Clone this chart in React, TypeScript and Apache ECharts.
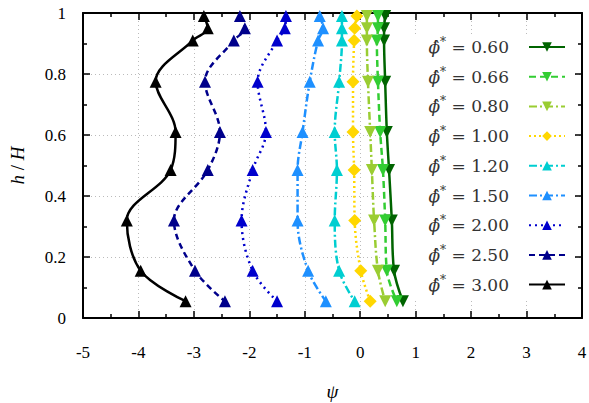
import React, { useEffect, useRef } from 'react';
import * as echarts from 'echarts';

// h/H levels where the profiles were sampled (top to bottom)
const heights = [0.99, 0.95, 0.91, 0.775, 0.61, 0.485, 0.32, 0.155, 0.055];

// psi values for each phi* series
const phiLabels = ['0.60', '0.66', '0.80', '1.00', '1.20', '1.50', '2.00', '2.50', '3.00'];
const psi060 = [0.45, 0.43, 0.43, 0.45, 0.48, 0.52, 0.57, 0.61, 0.77];
const psi066 = [0.32, 0.32, 0.30, 0.32, 0.36, 0.41, 0.45, 0.48, 0.66];
const psi080 = [0.12, 0.12, 0.12, 0.14, 0.18, 0.21, 0.25, 0.32, 0.45];
const psi100 = [-0.06, -0.1, -0.11, -0.13, -0.13, -0.11, -0.1, 0.01, 0.18];
const psi120 = [-0.33, -0.33, -0.33, -0.38, -0.46, -0.42, -0.46, -0.38, -0.1];
const psi150 = [-0.73, -0.67, -0.76, -0.91, -1.04, -1.13, -1.13, -0.94, -0.62];
const psi200 = [-1.34, -1.36, -1.5, -1.85, -1.7, -1.94, -2.14, -1.94, -1.5];
const psi250 = [-2.17, -2.08, -2.28, -2.8, -2.53, -2.75, -3.36, -2.98, -2.44];
const psi300 = [-2.82, -2.75, -3.02, -3.69, -3.33, -3.42, -4.21, -3.96, -3.15];

const allPsi = [psi060, psi066, psi080, psi100, psi120, psi150, psi200, psi250, psi300];
const colors = ['#006400', '#32CD32', '#9ACD32', '#FFD700', '#00CED1', '#1E90FF', '#0000CD', '#00008B', '#000000'];
const dashes: any[] = ['solid', [7, 4], [8, 3, 2, 3], [2, 3], [8, 3, 2, 3], [8, 3, 2, 3], [2, 4], [6, 4], 'solid'];
const symbols = ['triangle', 'triangle', 'triangle', 'diamond', 'triangle', 'triangle', 'triangle', 'triangle', 'triangle'];
const rotations = [180, 180, 180, 0, 0, 0, 0, 0, 0];

const FONT = 'Liberation Serif';
const FONT_L = 'DejaVu Serif';

const tickRich = { a: { fontFamily: FONT, fontSize: 17, color: '#000' } };

export default function App() {
  const ref = useRef<HTMLDivElement>(null);
  useEffect(() => {
    const chart = echarts.init(ref.current!, null, { renderer: 'svg' });
    const series = phiLabels.map((name, k) => ({
      name,
      type: 'line',
      data: heights.map((h, i) => [allPsi[k][i], h]),
      smooth: 0.35,
      symbol: symbols[k],
      symbolRotate: rotations[k],
      symbolSize: symbols[k] === 'diamond' ? 13 : 12,
      lineStyle: { color: colors[k], width: 2.5, type: dashes[k] },
      itemStyle: { color: colors[k] },
      z: 2,
    }));
    const axisCommon = {
      axisLine: { show: true, onZero: false, lineStyle: { color: '#000', width: 2 } },
      axisTick: { show: true, inside: true, length: 7, lineStyle: { color: '#000', width: 1.5 } },
      minorTick: { show: true, splitNumber: 2, length: 4, lineStyle: { color: '#000', width: 1.5 } },
    };
    chart.setOption({
      animation: false,
      backgroundColor: '#fff',
      grid: { left: 83, right: 7, top: 13, bottom: 85, outerBoundsMode: 'none', containLabel: false },
      xAxis: [
        {
          type: 'value', min: -5, max: 4, interval: 1, position: 'bottom',
          ...axisCommon,
          axisLabel: {
            margin: 26,
            formatter: (v: number) => `{a|${v}}`,
            rich: tickRich,
          },
          splitLine: { show: true, lineStyle: { color: '#bbb', type: [1, 3], width: 1 } },
          name: '{i|ψ}', nameLocation: 'middle', nameGap: 64,
          nameTextStyle: { rich: { i: { fontFamily: FONT, fontSize: 19, fontStyle: 'italic', color: '#000' } } },
        },
        {
          type: 'value', min: -5, max: 4, interval: 1, position: 'top',
          ...axisCommon,
          axisLabel: { show: false },
          splitLine: { show: false },
        },
      ],
      yAxis: [
        {
          type: 'value', min: 0, max: 1, interval: 0.2, position: 'left',
          ...axisCommon,
          axisLabel: {
            margin: 17,
            formatter: (v: number) => `{a|${Math.round(v * 10) / 10}}`,
            rich: tickRich,
          },
          splitLine: { show: true, lineStyle: { color: '#bbb', type: [1, 3], width: 1 } },
          name: '{i|h}{n| / }{i|H}', nameLocation: 'middle', nameGap: 56, nameRotate: 90,
          nameTextStyle: {
            color: '#000',
            rich: {
              i: { fontFamily: FONT, fontSize: 19, fontStyle: 'italic', color: '#000' },
              n: { fontFamily: FONT, fontSize: 19, color: '#000' },
            },
          },
        },
        {
          type: 'value', min: 0, max: 1, interval: 0.2, position: 'right',
          ...axisCommon,
          axisLabel: { show: false },
          splitLine: { show: false },
        },
      ],
      legend: {
        orient: 'vertical',
        right: 16,
        top: 34,
        align: 'right',
        itemWidth: 36,
        itemHeight: 12,
        itemGap: 10.2,
        padding: [2, 7, 6, 46],
        backgroundColor: '#fff',
        z: 1,
        data: phiLabels,
        formatter: (name: string) => `{p|ϕ̂}{s|*}{n| = ${name}}`,
        textStyle: {
          fontFamily: FONT_L,
          fontSize: 17,
          padding: [0, 15, 0, 0],
          rich: {
            p: { fontFamily: FONT_L, fontSize: 17, fontStyle: 'italic', color: '#333', lineHeight: 22 },
            s: { fontFamily: FONT_L, fontSize: 12, color: '#333', lineHeight: 22, verticalAlign: 'top' },
            n: { fontFamily: FONT_L, fontSize: 17, color: '#333', lineHeight: 22 },
          },
        },
      },
      series,
    });
    return () => chart.dispose();
  }, []);
  return <div ref={ref} style={{ position: 'fixed', left: 0, top: 0, width: 589, height: 403 }} />;
}
